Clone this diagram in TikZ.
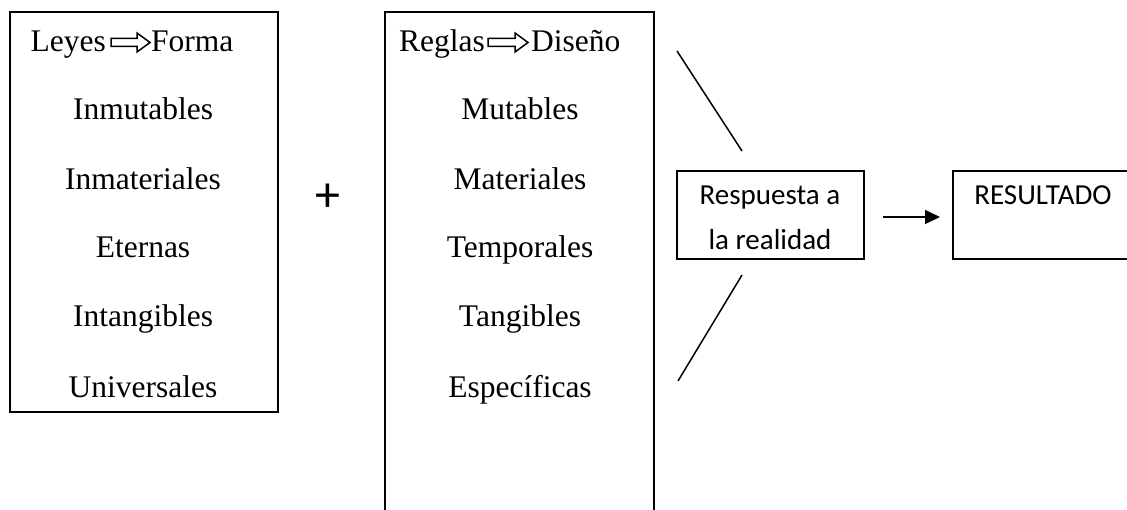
\documentclass[tikz,border=0pt]{standalone}
\usepackage{fontspec}
\setmainfont{Liberation Serif}
\newfontfamily\calib{Carlito}
\usetikzlibrary{arrows.meta}
\tikzset{
  boxline/.style={draw=black, line width=1.6pt, fill=none, inner sep=0pt, outer sep=0pt},
  serif/.style={font=\fontsize{31.5}{36}\selectfont, inner sep=0pt, anchor=base},
  sans/.style={font=\calib\fontsize{29}{34}\selectfont, inner sep=0pt, anchor=base},
  conn/.style={draw=black, line width=1.5pt},
  harrow/.pic={
    \draw[line width=1.5pt, line join=miter]
      (0,-4) -- (#1-13,-4) -- (#1-13,-9.5) -- (#1,0) -- (#1-13,9.5) -- (#1-13,4) -- (0,4) -- cycle;
  }
}
\begin{document}
\begin{tikzpicture}[x=1pt,y=-1pt]
\useasboundingbox (0,0) rectangle (1127,510);
% boxes
\node[boxline, minimum width=268pt, minimum height=400pt] (b1) at (144,212) {};
\node[boxline, minimum width=269pt, minimum height=518pt] (b2) at (519.5,271) {};
\node[boxline, minimum width=187pt, minimum height=88pt] (b3) at (770.5,215) {};
\node[boxline, minimum width=182pt, minimum height=88pt] (b4) at (1044,215) {};
% box 1 texts
\node[serif, anchor=base east] (leyes) at (106,52) {Leyes};
\pic at (111,42.5) {harrow=39};
\node[serif, anchor=base west] (forma) at (151,52) {Forma};
\node[serif] (t11) at (143,120) {Inmutables};
\node[serif] (t12) at (143,190) {Inmateriales};
\node[serif] (t13) at (143,258) {Eternas};
\node[serif] (t14) at (143,327) {Intangibles};
\node[serif] (t15) at (143,397) {Universales};
% box 2 texts
\node[serif, anchor=base east] (reglas) at (485,52) {Reglas};
\pic at (488,42.5) {harrow=40};
\node[serif, anchor=base west] (diseno) at (531,52) {Diseño};
\node[serif] (t21) at (520,120) {Mutables};
\node[serif] (t22) at (520,190) {Materiales};
\node[serif] (t23) at (520,258) {Temporales};
\node[serif] (t24) at (520,327) {Tangibles};
\node[serif] (t25) at (520,397) {Específicas};
% plus
\node[font=\calib\fontsize{50}{50}\selectfont, inner sep=0pt] (plus) at (328,198) {+};
% box 3 / 4 texts
\node[sans] (r1) at (770,205) {Respuesta a};
\node[sans] (r2) at (770,250) {la realidad};
\node[sans] (res) at (1043,205) {RESULTADO};
% connectors
\coordinate (u1) at (677,51);
\coordinate (u2) at (742,151);
\coordinate (l1) at (742,275);
\coordinate (l2) at (678,381);
\draw[conn] (u1) -- (u2);
\draw[conn] (l1) -- (l2);
\draw[conn, -{Triangle[length=15pt,width=14pt]}, shorten <=19pt, shorten >=13pt] (b3.east |- 0,217) -- (b4.west |- 0,217);
\end{tikzpicture}
\end{document}
